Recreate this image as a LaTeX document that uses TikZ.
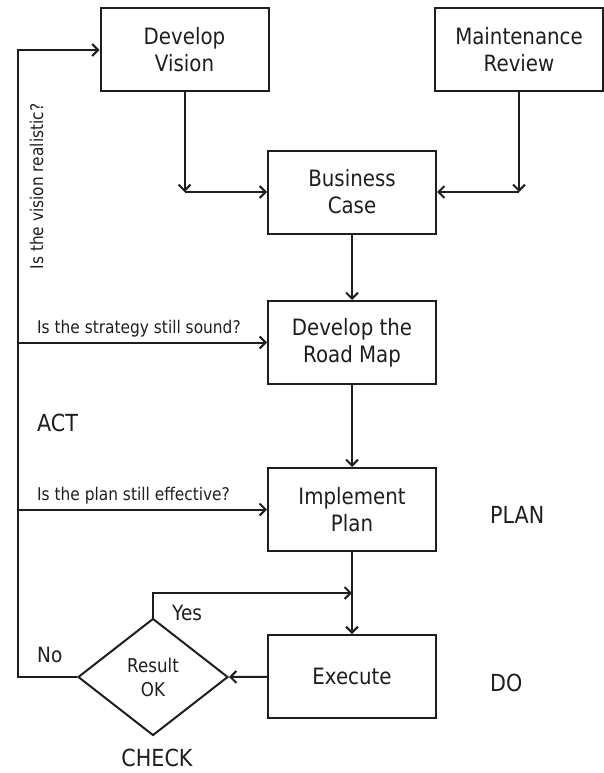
\documentclass[tikz,border=0pt]{standalone}
\usepackage{fontspec}
\setmainfont{DejaVu Sans}[FakeStretch=0.88]
\definecolor{flowink}{RGB}{30,30,30}
\usetikzlibrary{arrows.meta,shapes.geometric}

\begin{document}
\begin{tikzpicture}[x=1pt,y=-1pt,
  stepbox/.style={draw=flowink,line width=2pt,minimum width=168pt,minimum height=83pt,
    inner sep=0pt,align=center,text=flowink,font=\fontsize{22.5}{27}\selectfont},
  check/.style={draw=flowink,line width=2pt,shape=diamond,minimum width=150pt,
    minimum height=117pt,inner sep=0pt,align=center,text=flowink,font=\fontsize{19}{24}\selectfont},
  flow/.style={draw=flowink,line width=2pt,-{Straight Barb[length=6pt,width=12pt]}},
  question/.style={anchor=base west,inner sep=0pt,text=flowink,font=\fontsize{17.5}{20}\selectfont},
  phase/.style={anchor=base west,inner sep=0pt,text=flowink,font=\fontsize{23.5}{26}\selectfont},
  answer/.style={anchor=base west,inner sep=0pt,text=flowink,font=\fontsize{21}{24}\selectfont}
]
  \useasboundingbox (0,0) rectangle (603,773);
  % boxes
  \node[stepbox] (vision) at (184.5,50) {Develop\\Vision};
  \node[stepbox] (maintenance) at (519,50) {Maintenance\\Review};
  \node[stepbox] (business) at (352,192) {Business\\Case};
  \node[stepbox] (roadmap) at (352,342.5) {Develop the\\Road Map};
  \node[stepbox] (implement) at (352,509.5) {Implement\\Plan};
  \node[stepbox] (execute) at (352,676.5) {Execute};
  \node[check] (result) at (153,677) {Result\\OK};
  % joints
  \coordinate (visdrop) at (184.5,192);
  \coordinate (maintdrop) at (519,192);
  \coordinate (yesjoin) at (352,593);
  \coordinate (loopbase) at (18,677);
  \coordinate (askroad) at (18,342.5);
  \coordinate (askplan) at (18,509.5);
  % connectors
  \draw[flow] (vision) -- (visdrop);
  \draw[flow] (visdrop) -- (business.west);
  \draw[flow] (maintenance) -- (maintdrop);
  \draw[flow] (maintdrop) -- (business.east);
  \draw[flow] (business) -- (roadmap);
  \draw[flow] (roadmap) -- (implement);
  \draw[flow] (implement) -- (execute);
  \draw[flow] (execute) -- (result.east);
  \draw[flow] (result.north) |- (yesjoin);
  \draw[flow] (result.west) -- (loopbase) |- (vision.west);
  \draw[flow] (askroad) -- (roadmap.west);
  \draw[flow] (askplan) -- (implement.west);
  % labels
  \node[anchor=base,rotate=90,inner sep=0pt,text=flowink,font=\fontsize{17.5}{20}\selectfont]
    (askvision) at (43,186.5) {Is the vision realistic?};
  \node[question] (asksound) at (37,333) {Is the strategy still sound?};
  \node[question] (askeffect) at (37,500) {Is the plan still effective?};
  \node[phase] (act) at (37,431) {ACT};
  \node[phase] (plan) at (490,523) {PLAN};
  \node[phase] (do) at (490,691) {DO};
  \node[phase,anchor=base] (checklbl) at (157,766) {CHECK};
  \node[answer] (yes) at (172,620) {Yes};
  \node[answer] (no) at (37,662) {No};
\end{tikzpicture}
\end{document}
